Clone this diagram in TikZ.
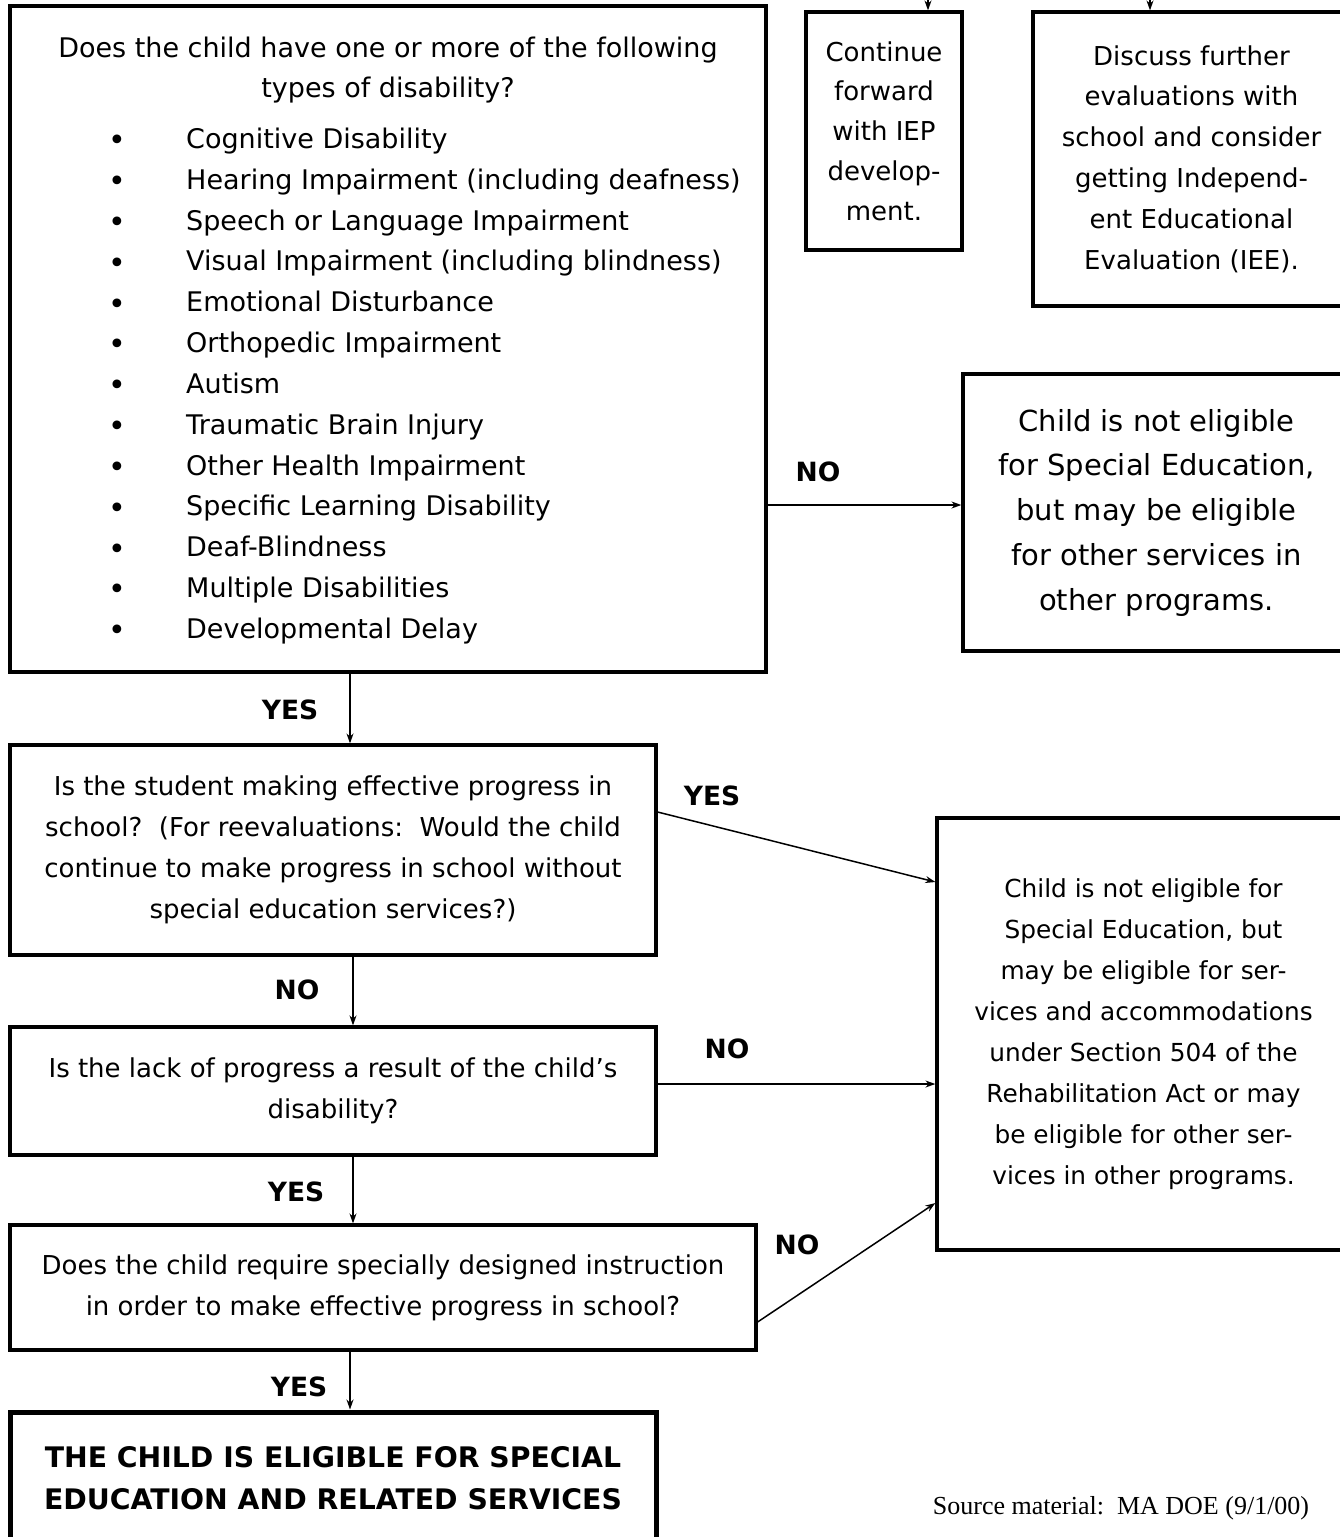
\documentclass[tikz,border=0pt]{standalone}
\usepackage{fontspec}
\setmainfont{DejaVu Sans}
\newfontfamily\srcfont{Liberation Serif}
\usetikzlibrary{arrows.meta}
\begin{document}
\begin{tikzpicture}[x=1pt,y=-1pt,
  box/.style={draw, line width=3.2pt, inner sep=0pt, align=center,
    font=\fontsize{26}{40.8}\selectfont},
  bigbox/.style={box, line width=5pt},
  txt/.style={inner sep=0pt, font=\fontsize{27}{40.8}\selectfont, text height=19pt, text depth=6pt},
  lbl/.style={inner sep=0pt, font=\fontsize{26.5}{30}\selectfont\bfseries},
  arr/.style={-{Stealth[length=10pt,width=7pt]}, line width=1.5pt}]
\useasboundingbox (0,0) rectangle (1340,1537);
% boxes
\node[box, minimum width=756, minimum height=666] (q1) at (388,339) {};
\node[box, minimum width=156, minimum height=238, font=\fontsize{26}{39.75}\selectfont] (cont) at (884,131)
  {Continue\\forward\\with IEP\\develop-\\ment.};
\node[box, minimum width=317, minimum height=294] (disc) at (1191.5,159)
  {Discuss further\\evaluations with\\school and consider\\getting Independ-\\ent Educational\\Evaluation (IEE).};
\node[box, minimum width=387, minimum height=277, font=\fontsize{29}{44.75}\selectfont] (ne1) at (1156.5,512.5)
  {Child is not eligible\\for Special Education,\\but may be eligible\\for other services in\\other programs.};
\node[box, minimum width=413, minimum height=432, font=\fontsize{24.8}{41}\selectfont] (ne2) at (1143.5,1034)
  {Child is not eligible for\\Special Education, but\\may be eligible for ser-\\vices and accommodations\\under Section 504 of the\\Rehabilitation Act or may\\be eligible for other ser-\\vices in other programs.};
\node[box, minimum width=646, minimum height=210] (q2) at (333,850)
  {Is the student making effective progress in\\school?\ \ (For reevaluations:\ \ Would the child\\continue to make progress in school without\\special education services?)};
\node[box, minimum width=646, minimum height=128] (q3) at (333,1091)
  {Is the lack of progress a result of the child’s\\disability?};
\node[box, minimum width=746, minimum height=125] (q4) at (383,1287.5)
  {Does the child require specially designed instruction\\in order to make effective progress in school?};
\node[bigbox, minimum width=646, minimum height=133, font=\fontsize{28.3}{42}\selectfont\bfseries] (res) at (333,1478.5)
  {THE CHILD IS ELIGIBLE FOR SPECIAL\\EDUCATION AND RELATED SERVICES};
% main box text
\node[txt, align=center, text height=, text depth=] (title) at (388,70)
  {Does the child have one or more of the following\\types of disability?};
\foreach \t [count=\i] in {Cognitive Disability, Hearing Impairment (including deafness),
  Speech or Language Impairment, Visual Impairment (including blindness),
  Emotional Disturbance, Orthopedic Impairment, Autism, Traumatic Brain Injury,
  Other Health Impairment, Specific Learning Disability, Deaf-Blindness,
  Multiple Disabilities, Developmental Delay} {
  \node[txt, anchor=west] (it\i) at (186,{142+40.83*(\i-1)}) {\t};
  \node[txt, font=\fontsize{30}{30}\selectfont, text height=, text depth=] (bu\i) at (117,{143+40.83*(\i-1)}) {\textbullet};
}
% top arrows
\coordinate (t1) at (928,0);
\coordinate (t2) at (1150,0);
\draw[arr] (t1) -- (t1 |- cont.north);
\draw[arr] (t2) -- (t2 |- disc.north);
% connectors
\draw[arr] (q1.east |- 0,505) -- (ne1.west |- 0,505);
\draw[arr] (q1.south -| 350,0) -- (q2.north -| 350,0);
\draw[arr] (q2.east |- 0,812) -- (ne2.west |- 0,882);
\draw[arr] (q2.south -| 353,0) -- (q3.north -| 353,0);
\draw[arr] (q3.east |- 0,1084) -- (ne2.west |- 0,1084);
\draw[arr] (q3.south -| 353,0) -- (q4.north -| 353,0);
\draw[arr] (q4.east |- 0,1322) -- (ne2.west |- 0,1203);
\draw[arr] (q4.south -| 350,0) -- (res.north -| 350,0);
% labels
\node[lbl] (l1) at (818,472) {NO};
\node[lbl] (l2) at (290,710) {YES};
\node[lbl] (l3) at (712,796) {YES};
\node[lbl] (l4) at (297,990) {NO};
\node[lbl] (l5) at (727,1049) {NO};
\node[lbl] (l6) at (296,1192) {YES};
\node[lbl] (l7) at (797,1245) {NO};
\node[lbl] (l8) at (299,1387) {YES};
\node[inner sep=0pt, font=\srcfont\fontsize{26}{30}\selectfont] (src) at (1121,1508) {Source material:\ \ MA DOE (9/1/00)};
\end{tikzpicture}
\end{document}
